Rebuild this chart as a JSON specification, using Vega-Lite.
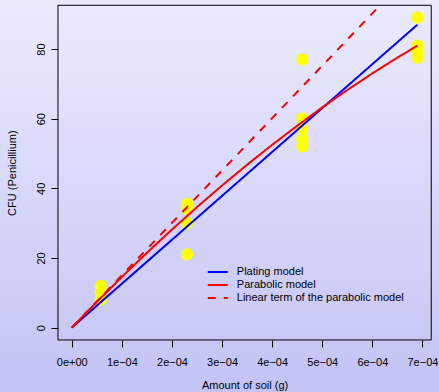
{
  "$schema": "https://vega.github.io/schema/vega-lite/v6.json",
  "width": 439,
  "height": 392,
  "padding": 0,
  "autosize": "none",
  "background": "#D8D8F9",
  "config": {
    "view": {"stroke": null},
    "font": "Liberation Sans",
    "axis": {
      "domain": false,
      "grid": false,
      "tickColor": "black",
      "tickWidth": 1,
      "tickSize": 7,
      "labelColor": "black",
      "labelFontSize": 11,
      "labelFont": "Liberation Sans",
      "titleFont": "Liberation Sans",
      "titleFontSize": 11,
      "titleFontWeight": "normal",
      "titleColor": "black",
      "labelFlush": false,
      "labelOverlap": false
    }
  },
  "datasets": {
    "frame": [{"x": -0.0000276, "x2": 0.0007176, "y": -3.56, "y2": 92.56}],
    "points": [
      {"x": 0.0000575, "y": 12},
      {"x": 0.0000575, "y": 10},
      {"x": 0.0000575, "y": 8},
      {"x": 0.00023, "y": 35.5},
      {"x": 0.00023, "y": 34},
      {"x": 0.00023, "y": 30},
      {"x": 0.00023, "y": 21},
      {"x": 0.00046, "y": 77},
      {"x": 0.00046, "y": 60},
      {"x": 0.00046, "y": 57},
      {"x": 0.00046, "y": 54},
      {"x": 0.00046, "y": 52},
      {"x": 0.00069, "y": 89},
      {"x": 0.00069, "y": 81},
      {"x": 0.00069, "y": 79},
      {"x": 0.00069, "y": 77.5}
    ],
    "models": [
      {"model": "Plating model", "x": 0, "y": 0},
      {"model": "Plating model", "x": 0.00069, "y": 87.0},
      {"model": "Parabolic model", "x": 0, "y": 0},
      {"model": "Parabolic model", "x": 0.00005, "y": 7.40},
      {"model": "Parabolic model", "x": 0.0001, "y": 14.56},
      {"model": "Parabolic model", "x": 0.00015, "y": 21.48},
      {"model": "Parabolic model", "x": 0.0002, "y": 28.16},
      {"model": "Parabolic model", "x": 0.00025, "y": 34.61},
      {"model": "Parabolic model", "x": 0.0003, "y": 40.81},
      {"model": "Parabolic model", "x": 0.00035, "y": 46.77},
      {"model": "Parabolic model", "x": 0.0004, "y": 52.50},
      {"model": "Parabolic model", "x": 0.00045, "y": 57.98},
      {"model": "Parabolic model", "x": 0.0005, "y": 63.23},
      {"model": "Parabolic model", "x": 0.00055, "y": 68.23},
      {"model": "Parabolic model", "x": 0.0006, "y": 73.00},
      {"model": "Parabolic model", "x": 0.00065, "y": 77.52},
      {"model": "Parabolic model", "x": 0.00069, "y": 80.97},
      {"model": "Linear term of the parabolic model", "x": 0, "y": 0},
      {"model": "Linear term of the parabolic model", "x": 0.0006154, "y": 92.56}
    ]
  },
  "layer": [
    {
      "data": {"values": [{}]},
      "mark": {
        "type": "rect",
        "fill": {
          "gradient": "linear",
          "x1": 0, "y1": 0, "x2": 0, "y2": 1,
          "stops": [
            {"offset": 0, "color": "#EBEBFE"},
            {"offset": 1, "color": "#C3C3F5"}
          ]
        }
      }
    },
    {
      "data": {"name": "frame"},
      "mark": {"type": "rect", "fill": null, "stroke": "black", "strokeWidth": 1},
      "encoding": {
        "x": {
          "field": "x", "type": "quantitative", "title": "Amount of soil (g)",
          "scale": {"domain": [-0.00014334, 0.00073308], "nice": false, "zero": false},
          "axis": {
            "zindex": 1,
            "values": [0, 0.0001, 0.0002, 0.0003, 0.0004, 0.0005, 0.0006, 0.0007],
            "labelExpr": "datum.value == 0 ? '0e+00' : round(datum.value * 10000) + 'e\u221204'",
            "offset": -52, "labelPadding": 9,
            "titleX": 244.6, "titleY": 45, "titleBaseline": "middle", "titleAlign": "center"
          }
        },
        "x2": {"field": "x2"},
        "y": {
          "field": "y", "type": "quantitative", "title": "CFU (Penicillium)",
          "scale": {"domain": [-18.5, 94.08], "nice": false, "zero": false},
          "axis": {
            "zindex": 1,
            "values": [0, 20, 40, 60, 80],
            "offset": -58, "labelAngle": 270, "labelAlign": "center", "labelBaseline": "bottom", "labelPadding": 5,
            "titleAngle": 270, "titleX": -46, "titleY": 172.6, "titleAlign": "center", "titleBaseline": "middle"
          }
        },
        "y2": {"field": "y2"}
      }
    },
    {
      "data": {"name": "points"},
      "mark": {"type": "circle", "color": "#FFFF00", "opacity": 1, "size": 150},
      "encoding": {
        "x": {"field": "x", "type": "quantitative", "title": "Amount of soil (g)"},
        "y": {"field": "y", "type": "quantitative", "title": "CFU (Penicillium)"}
      }
    },
    {
      "data": {"name": "models"},
      "mark": {"type": "line", "strokeWidth": 2},
      "encoding": {
        "x": {"field": "x", "type": "quantitative", "title": "Amount of soil (g)"},
        "y": {"field": "y", "type": "quantitative", "title": "CFU (Penicillium)"},
        "color": {
          "field": "model", "type": "nominal",
          "scale": {"domain": ["Plating model", "Parabolic model", "Linear term of the parabolic model"], "range": ["#0000FF", "#FF0000", "#FF0000"]},
          "legend": {
            "orient": "none", "legendX": 211.8, "legendY": 266, "title": null,
            "symbolType": "M-2,0H2", "symbolSize": 100, "symbolStrokeWidth": 2, "symbolFillColor": "transparent",
            "labelFontSize": 11, "labelColor": "black", "labelOffset": 13, "labelLimit": 300,
            "rowPadding": 2, "padding": 0
          }
        },
        "strokeDash": {
          "field": "model", "type": "nominal",
          "scale": {"domain": ["Plating model", "Parabolic model", "Linear term of the parabolic model"], "range": [[1, 0], [1, 0], [8, 8]]},
          "legend": {
            "orient": "none", "legendX": 211.8, "legendY": 266, "title": null,
            "symbolType": "M-2,0H2", "symbolSize": 100, "symbolStrokeWidth": 2, "symbolFillColor": "transparent",
            "labelFontSize": 11, "labelColor": "black", "labelOffset": 13, "labelLimit": 300,
            "rowPadding": 2, "padding": 0
          }
        }
      }
    }
  ]
}
